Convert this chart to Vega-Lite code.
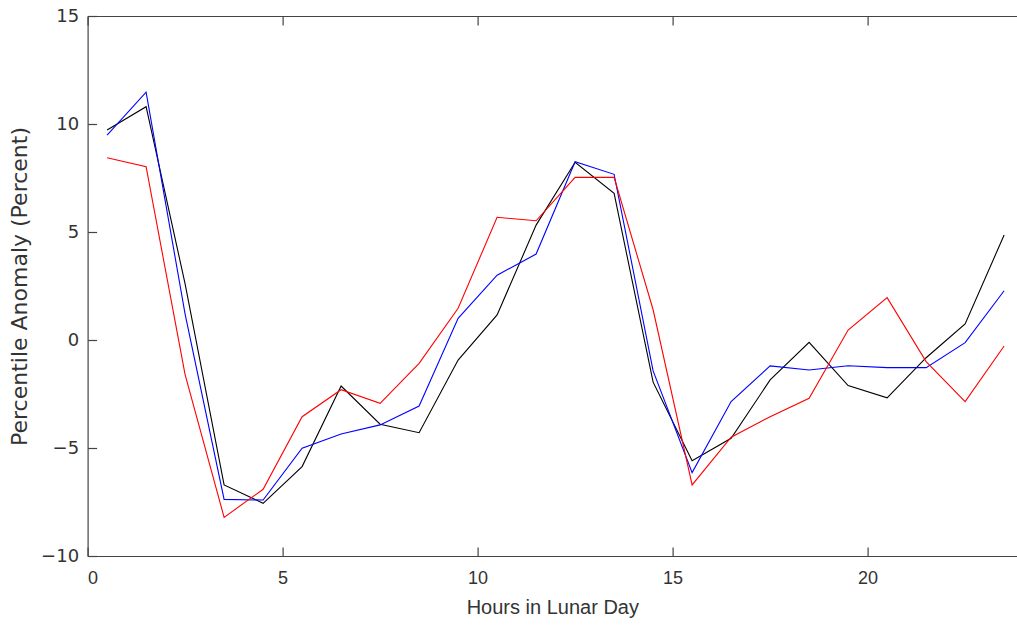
{
  "$schema": "https://vega.github.io/schema/vega-lite/v6.json",
  "autosize": {"type": "none"},
  "width": 929.4,
  "height": 540,
  "padding": {"left": 87.6, "top": 16, "right": 0, "bottom": 72},
  "background": "white",
  "config": {
    "view": {"stroke": null},
    "axis": {
      "domainColor": "#444444",
      "domainWidth": 1.2,
      "tickColor": "#444444",
      "tickSize": -9,
      "tickWidth": 1.2,
      "grid": false,
      "labelFont": "Liberation Sans",
      "labelFontSize": 18,
      "labelColor": "#333333",
      "titleFont": "Liberation Sans",
      "titleFontSize": 20,
      "titleFontWeight": "normal",
      "titleColor": "#333333"
    }
  },
  "data": {
    "values": [
      {"h": 0.5, "s": "black", "v": 9.72},
      {"h": 1.5, "s": "black", "v": 10.8},
      {"h": 2.5, "s": "black", "v": 2.6},
      {"h": 3.5, "s": "black", "v": -6.71},
      {"h": 4.5, "s": "black", "v": -7.56},
      {"h": 5.5, "s": "black", "v": -5.86},
      {"h": 6.5, "s": "black", "v": -2.13},
      {"h": 7.5, "s": "black", "v": -3.9},
      {"h": 8.5, "s": "black", "v": -4.29},
      {"h": 9.5, "s": "black", "v": -0.93},
      {"h": 10.5, "s": "black", "v": 1.16},
      {"h": 11.5, "s": "black", "v": 5.32},
      {"h": 12.5, "s": "black", "v": 8.23},
      {"h": 13.5, "s": "black", "v": 6.79},
      {"h": 14.5, "s": "black", "v": -1.95},
      {"h": 15.5, "s": "black", "v": -5.59},
      {"h": 16.5, "s": "black", "v": -4.55},
      {"h": 17.5, "s": "black", "v": -1.85},
      {"h": 18.5, "s": "black", "v": -0.11},
      {"h": 19.5, "s": "black", "v": -2.11},
      {"h": 20.5, "s": "black", "v": -2.68},
      {"h": 21.5, "s": "black", "v": -0.82},
      {"h": 22.5, "s": "black", "v": 0.74},
      {"h": 23.5, "s": "black", "v": 4.86},
      {"h": 0.5, "s": "blue", "v": 9.49},
      {"h": 1.5, "s": "blue", "v": 11.47},
      {"h": 2.5, "s": "blue", "v": 1.2},
      {"h": 3.5, "s": "blue", "v": -7.38},
      {"h": 4.5, "s": "blue", "v": -7.41},
      {"h": 5.5, "s": "blue", "v": -5.01},
      {"h": 6.5, "s": "blue", "v": -4.35},
      {"h": 7.5, "s": "blue", "v": -3.93},
      {"h": 8.5, "s": "blue", "v": -3.06},
      {"h": 9.5, "s": "blue", "v": 1.0},
      {"h": 10.5, "s": "blue", "v": 3.0},
      {"h": 11.5, "s": "blue", "v": 3.98},
      {"h": 12.5, "s": "blue", "v": 8.25},
      {"h": 13.5, "s": "blue", "v": 7.67},
      {"h": 14.5, "s": "blue", "v": -1.43},
      {"h": 15.5, "s": "blue", "v": -6.14},
      {"h": 16.5, "s": "blue", "v": -2.85},
      {"h": 17.5, "s": "blue", "v": -1.2},
      {"h": 18.5, "s": "blue", "v": -1.39},
      {"h": 19.5, "s": "blue", "v": -1.19},
      {"h": 20.5, "s": "blue", "v": -1.28},
      {"h": 21.5, "s": "blue", "v": -1.28},
      {"h": 22.5, "s": "blue", "v": -0.12},
      {"h": 23.5, "s": "blue", "v": 2.28},
      {"h": 0.5, "s": "red", "v": 8.44},
      {"h": 1.5, "s": "red", "v": 8.02},
      {"h": 2.5, "s": "red", "v": -1.6},
      {"h": 3.5, "s": "red", "v": -8.21},
      {"h": 4.5, "s": "red", "v": -6.91},
      {"h": 5.5, "s": "red", "v": -3.55},
      {"h": 6.5, "s": "red", "v": -2.3},
      {"h": 7.5, "s": "red", "v": -2.93},
      {"h": 8.5, "s": "red", "v": -1.08},
      {"h": 9.5, "s": "red", "v": 1.47},
      {"h": 10.5, "s": "red", "v": 5.68},
      {"h": 11.5, "s": "red", "v": 5.52},
      {"h": 12.5, "s": "red", "v": 7.53},
      {"h": 13.5, "s": "red", "v": 7.53},
      {"h": 14.5, "s": "red", "v": 1.4},
      {"h": 15.5, "s": "red", "v": -6.71},
      {"h": 16.5, "s": "red", "v": -4.5},
      {"h": 17.5, "s": "red", "v": -3.55},
      {"h": 18.5, "s": "red", "v": -2.7},
      {"h": 19.5, "s": "red", "v": 0.46},
      {"h": 20.5, "s": "red", "v": 1.96},
      {"h": 21.5, "s": "red", "v": -1.0},
      {"h": 22.5, "s": "red", "v": -2.85},
      {"h": 23.5, "s": "red", "v": -0.28}
    ]
  },
  "resolve": {"axis": {"x": "independent", "y": "independent"}},
  "layer": [
    {
      "mark": {"type": "line", "strokeWidth": 1.1},
      "encoding": {
        "x": {
          "field": "h", "type": "quantitative",
          "scale": {"domain": [0, 23.83], "nice": false, "zero": false},
          "axis": {"values": [0, 5, 10, 15, 20], "title": "Hours in Lunar Day", "labelPadding": 22, "titlePadding": 10}
        },
        "y": {
          "field": "v", "type": "quantitative",
          "scale": {"domain": [-10, 15], "nice": false, "zero": false},
          "axis": {"values": [-10, -5, 0, 5, 10, 15], "title": "Percentile Anomaly (Percent)", "labelFont": "DejaVu Sans", "labelFontSize": 18, "labelPadding": 18, "titleFont": "DejaVu Sans", "titleFontSize": 22, "titlePadding": 9}
        },
        "color": {
          "field": "s", "type": "nominal",
          "scale": {"domain": ["red", "blue", "black"], "range": ["#ff0000", "#0000ff", "#000000"]},
          "legend": null
        },
        "detail": {"field": "s"}
      }
    },
    {
      "mark": {"type": "line", "opacity": 0},
      "encoding": {
        "x": {
          "field": "h", "type": "quantitative",
          "scale": {"domain": [0, 23.83], "nice": false, "zero": false},
          "axis": {"orient": "top", "values": [0, 5, 10, 15, 20], "labels": false, "title": null}
        },
        "y": {
          "field": "v", "type": "quantitative",
          "scale": {"domain": [-10, 15], "nice": false, "zero": false},
          "axis": null
        },
        "detail": {"field": "s"}
      }
    }
  ]
}
